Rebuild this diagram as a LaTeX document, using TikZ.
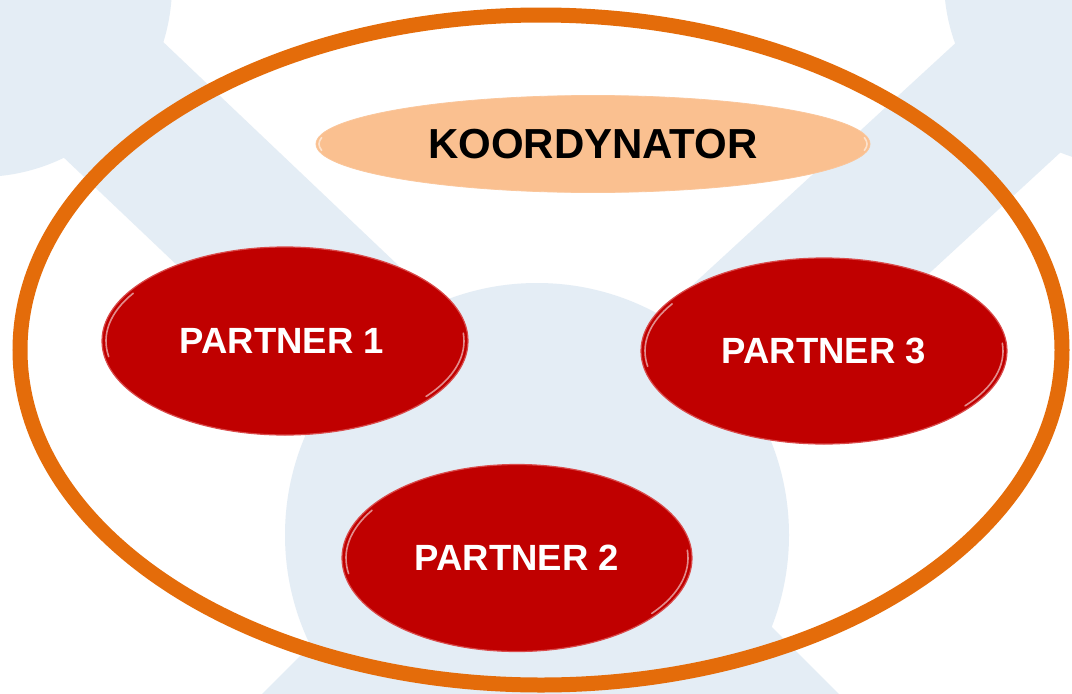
\documentclass[tikz,border=0pt]{standalone}
\usepackage{fontspec}
\setmainfont{Liberation Sans}
\usetikzlibrary{shapes.geometric,calc}
\definecolor{bgblue}{HTML}{E4EDF5}
\definecolor{ringorange}{HTML}{E46C0A}
\definecolor{peach}{HTML}{FAC090}
\definecolor{darkred}{HTML}{C00000}
\definecolor{rimred}{HTML}{D94A4A}
\tikzset{
  redell/.style={ellipse, fill=darkred, draw=rimred, line width=1.2pt, inner sep=0pt,
    text=white, font=\bfseries\fontsize{36.5}{40}\selectfont},
  coordell/.style={ellipse, fill=peach, draw=peach!90!white, line width=0.8pt, inner sep=0pt,
    text=black, font=\bfseries\fontsize{42}{46}\selectfont},
  ring/.style={draw=ringorange, line width=15pt},
  gloss/.style={draw=white, opacity=0.55, line width=1.6pt, line cap=round}
}
\begin{document}
\begin{tikzpicture}[x=1pt,y=-1pt]
\useasboundingbox (0,0) rectangle (1072,694);
\fill[white] (0,0) rectangle (1072,694);
\begin{scope}
  \clip (0,0) rectangle (1072,694);
  % corner blobs
  \fill[bgblue] (-20,-15) circle[radius=192pt];
  \fill[bgblue] (1130,-20) circle[radius=186pt];
  % central disc
  \fill[bgblue] (537,535) circle[radius=252pt];
  % top-left arm
  \fill[bgblue] (100,-18) -- (480,343) -- (360,439) -- (0,97) -- cycle;
  % top-right arm
  \fill[bgblue] (1010,-7) -- (600,370) -- (720,466) -- (1100,116) -- cycle;
  % bottom arms
  \fill[bgblue] (400,556) -- (230,726) -- (871,726) -- (700,555) -- cycle;
\end{scope}
% outer ring
\node[draw=none, inner sep=0pt, minimum size=0pt] (ringc) at (541,350) {};
\draw[ring] (ringc) ellipse[x radius=521pt, y radius=335pt];
% nodes
\node[coordell, minimum width=554pt, minimum height=97pt] (koord) at (593,144) {KOORDYNATOR};
\node[redell, minimum width=366pt, minimum height=188pt] (p1) at (285,341) {\hspace*{-6pt}PARTNER 1};
\node[redell, minimum width=366pt, minimum height=186pt] (p3) at (824,351) {PARTNER 3};
\node[redell, minimum width=350pt, minimum height=187pt] (p2) at (517,558) {PARTNER 2};
% glossy highlights
\draw[gloss] ($(p1.center)+(170:179 and 90)$) arc[start angle=170, end angle=212, x radius=179, y radius=90];
\draw[gloss] ($(p1.center)+(-5:179 and 90)$) arc[start angle=-5, end angle=38, x radius=179, y radius=90];
\draw[gloss] ($(p3.center)+(170:179 and 89)$) arc[start angle=170, end angle=212, x radius=179, y radius=89];
\draw[gloss] ($(p3.center)+(-5:179 and 89)$) arc[start angle=-5, end angle=38, x radius=179, y radius=89];
\draw[gloss] ($(p2.center)+(170:171 and 90)$) arc[start angle=170, end angle=212, x radius=171, y radius=90];
\draw[gloss] ($(p2.center)+(-5:171 and 90)$) arc[start angle=-5, end angle=38, x radius=171, y radius=90];
\draw[gloss] ($(koord.center)+(172:274 and 46)$) arc[start angle=172, end angle=188, x radius=274, y radius=46];
\draw[gloss] ($(koord.center)+(-8:274 and 46)$) arc[start angle=-8, end angle=8, x radius=274, y radius=46];
\end{tikzpicture}
\end{document}
